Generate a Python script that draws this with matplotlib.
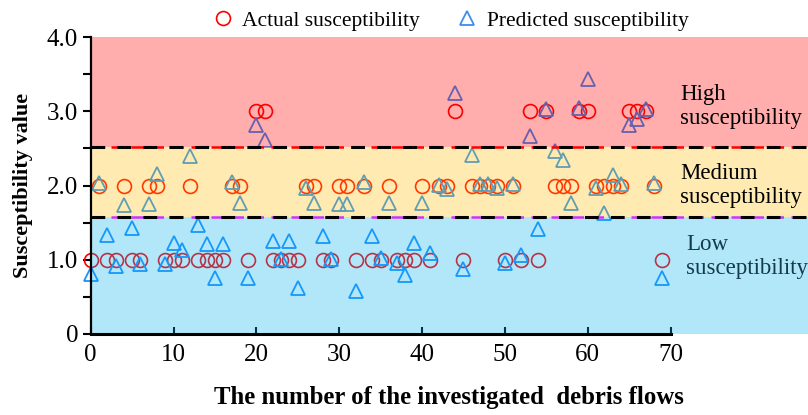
import numpy as np
import matplotlib
matplotlib.use("Agg")
import matplotlib.pyplot as plt
from matplotlib.lines import Line2D

plt.rcParams['font.family'] = ['Liberation Serif', 'DejaVu Serif']

# debris flow index
flow_no = np.arange(70)

# actual susceptibility class (1 = low, 2 = medium, 3 = high)
actual = [1, 2, 1, 1, 2, 1, 1, 2, 2, 1,
          1, 1, 2, 1, 1, 1, 1, 2, 2, 1,
          3, 3, 1, 1, 1, 1, 2, 2, 1, 1,
          2, 2, 1, 2, 1, 1, 2, 1, 1, 1,
          2, 1, 2, 2, 3, 1, 2, 2, 2, 2,
          1, 2, 1, 3, 1, 3, 2, 2, 2, 3,
          3, 2, 2, 2, 2, 3, 3, 3, 2, 1]

# predicted susceptibility value
predicted = [0.81, 2.04, 1.34, 0.91, 1.74, 1.43, 0.94, 1.75, 2.15, 0.94,
             1.22, 1.13, 2.40, 1.47, 1.21, 0.75, 1.21, 2.05, 1.76, 0.75,
             2.82, 2.61, 1.25, 1.01, 1.25, 0.62, 1.96, 1.77, 1.32, 1.01,
             1.75, 1.75, 0.58, 2.05, 1.32, 1.02, 1.76, 0.95, 0.79, 1.23,
             1.76, 1.09, 2.01, 1.95, 3.24, 0.87, 2.41, 2.02, 2.02, 1.97,
             0.95, 2.02, 1.06, 2.66, 1.42, 3.03, 2.46, 2.35, 1.77, 3.04,
             3.44, 1.96, 1.63, 2.14, 2.02, 2.81, 2.89, 3.03, 2.04, 0.75]

# class boundaries
high_limit = 2.52
low_limit = 1.57

x_ticks = np.arange(0, 71, 10)
y_ticks = np.arange(0, 4.01, 0.5)
y_labels = ['0', '', '1.0', '', '2.0', '', '3.0', '', '4.0']

fig = plt.figure(figsize=(8.08, 4.15), dpi=100)
ax = fig.add_axes([90.7 / 808, 1 - 334 / 415, (808 - 90.7) / 808, (334 - 37) / 415])

# markers first, coloured bands laid over them with transparency
ax.plot(flow_no, actual, 'o', ms=10, mfc='none', mec='#FF0000', mew=1.2, clip_on=False, zorder=2)
ax.plot(flow_no, predicted, '^', ms=9.5, mfc='none', mec='#1E8FFF', mew=1.3, clip_on=False, zorder=3)

ax.axhspan(high_limit, 4.0, color='#FF0000', alpha=0.32, lw=0, zorder=4)
ax.axhspan(low_limit, high_limit, color='#FFC000', alpha=0.30, lw=0, zorder=4)
ax.axhspan(0, low_limit, color='#00B0F0', alpha=0.30, lw=0, zorder=4)

ax.axhline(high_limit, color='#FF0000', lw=1.8, ls=(0, (5, 3)), zorder=5)
ax.axhline(high_limit, color='black', lw=2.2, ls=(0, (4.5, 4)), zorder=6)
ax.axhline(low_limit, color='#CC33FF', lw=1.8, ls=(0, (5, 3)), zorder=5)
ax.axhline(low_limit, color='black', lw=2.2, ls=(0, (4.5, 4)), zorder=6)

ax.text(71.2, 3.06, 'High\nsusceptibility', fontsize=16.5, va='center', ha='left', zorder=7)
ax.text(71.2, 2.0, 'Medium\nsusceptibility', fontsize=16.5, va='center', ha='left', zorder=7)
ax.text(71.9, 1.04, 'Low\nsusceptibility', fontsize=16.5, va='center', ha='left',
        color='#123C4C', zorder=7)

ax.set_xlim(0, 86.6)
ax.set_ylim(0, 4.0)
ax.set_xticks(x_ticks)
ax.set_yticks(y_ticks)
ax.set_yticklabels(y_labels)
ax.tick_params(axis='x', direction='in', length=5, width=1.5, labelsize=18, pad=7)
ax.tick_params(axis='y', direction='out', length=6, width=1.5, labelsize=18, pad=3)

for s in ['top', 'right']:
    ax.spines[s].set_visible(False)
ax.spines['left'].set_linewidth(1.6)
ax.spines['bottom'].set_linewidth(2.2)
ax.spines['bottom'].set_bounds(0, 70)
ax.spines['left'].set_zorder(8)
ax.spines['bottom'].set_zorder(8)

ax.set_ylabel('Susceptibility value', fontsize=16, fontweight='bold', labelpad=10)
ax.set_xlabel('The number of the investigated  debris flows', fontsize=17.8, fontweight='bold')
ax.xaxis.set_label_coords(0.5, -0.175)

handles = [Line2D([], [], marker='o', ls='none', ms=10, mfc='none', mec='#FF0000', mew=1.2),
           Line2D([], [], marker='^', ls='none', ms=9.5, mfc='none', mec='#3D8EF0', mew=1.3)]
ax.legend(handles, ['Actual susceptibility', 'Predicted susceptibility'], loc='lower center',
          bbox_to_anchor=(0.5, 0.985), ncol=2, frameon=False, fontsize=15.5,
          handletextpad=0.3, columnspacing=1.6, handlelength=1.2, borderaxespad=0.1)

fig.savefig('out.png', dpi=100)
